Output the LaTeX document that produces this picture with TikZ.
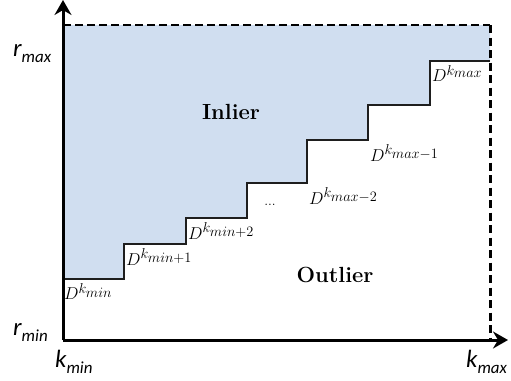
\documentclass[tikz,border=0pt]{standalone}
\usepackage{fontspec}
\newfontfamily\calf{Carlito}
\usetikzlibrary{arrows.meta}
\DeclareMathSizes{19}{19}{13.5}{10}
\definecolor{inlierblue}{RGB}{208,222,240}
\definecolor{stepgray}{RGB}{30,30,30}
\newcommand{\axlab}[2]{{\calf\itshape\fontsize{25}{25}\selectfont #1\raisebox{-6bp}{\fontsize{17}{17}\selectfont #2}}}
\newcommand{\dsup}[1]{$D^{k_{\scriptstyle #1}}$}
\tikzset{
  axisline/.style={line width=3bp, -{Stealth[length=15bp,width=17bp,inset=5bp]}},
  stepline/.style={line width=1.6bp, draw=stepgray},
  topdash/.style={line width=1.1bp, dash pattern=on 8bp off 4bp},
  rightdash/.style={line width=3bp, dash pattern=on 8bp off 4.5bp},
  dlab/.style={anchor=north west, inner sep=0pt, font=\fontsize{19}{22}\selectfont},
  region/.style={font=\fontsize{22}{25}\selectfont\bfseries, text=black},
  axlabel/.style={anchor=base west, inner sep=0pt}
}
\begin{document}
\begin{tikzpicture}[x=1bp,y=-1bp]
\useasboundingbox (0,0) rectangle (511,380);
% coordinates
\coordinate (O) at (63,340);
\coordinate (ytop) at (63,0);
\coordinate (xend) at (508,340);
\coordinate (tl) at (63,25);
\coordinate (tr) at (490,25);
\coordinate (br) at (490,340);
% filled inlier region
\fill[inlierblue] (63,25) -- (490,25) -- (490,61) -- (430,61) -- (430,105) -- (368,105) -- (368,140) -- (307,140) -- (307,183) -- (247,183) -- (247,218) -- (186,218) -- (186,244) -- (124,244) -- (124,279) -- (63,279) -- cycle;
% staircase
\draw[stepline] (63,279) -- (124,279) -- (124,244) -- (186,244) -- (186,218) -- (247,218) -- (247,183) -- (307,183) -- (307,140) -- (368,140) -- (368,105) -- (430,105) -- (430,61) -- (490,61);
% dashed borders
\draw[topdash] (tl) -- (tr);
\draw[rightdash] (tr) -- (br);
% axes
\draw[axisline] (O) -- (ytop);
\draw[axisline] (O) -- (xend);
% step labels
\node[dlab] (d0) at (64,283) {\dsup{min}};
\node[dlab] (d1) at (126,248) {\dsup{min+1}};
\node[dlab] (d2) at (188,222) {\dsup{min+2}};
\node[dlab] (d3) at (309,187) {\dsup{max-2}};
\node[dlab] (d4) at (370,144) {\dsup{max-1}};
\node[dlab] (d5) at (432,65) {\dsup{max}};
\node[font=\fontsize{14}{14}\selectfont] (dots) at (270,205) {...};
% regions
\node[region] (inl) at (231,112) {Inlier};
\node[region] (outl) at (335,275) {Outlier};
% axis labels
\node[axlabel] (rmax) at (13,56) {\axlab{r}{max}};
\node[axlabel] (rmin) at (13,335) {\axlab{r}{min}};
\node[axlabel] (kmin) at (55,367) {\axlab{k}{min}};
\node[axlabel] (kmax) at (466,367) {\axlab{k}{max}};
\end{tikzpicture}
\end{document}
